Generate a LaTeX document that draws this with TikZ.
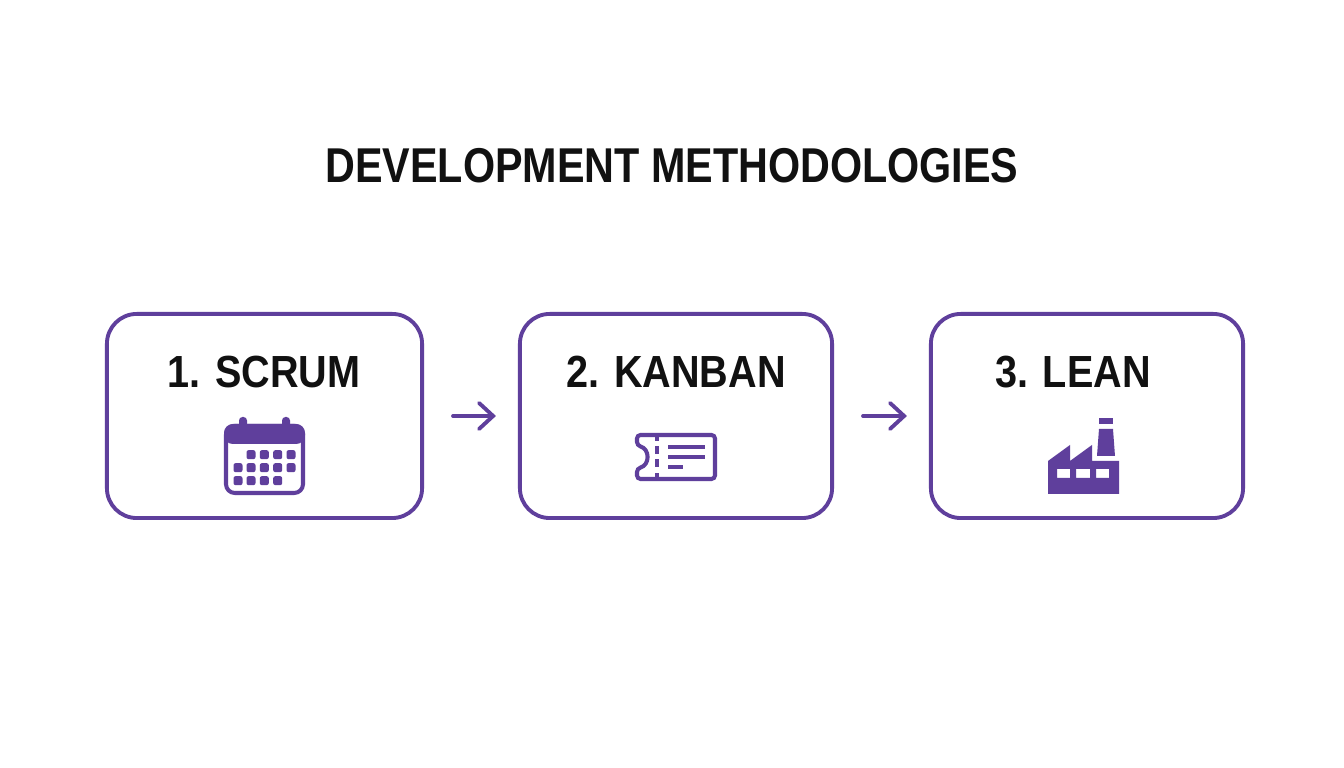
\documentclass[tikz,border=0pt]{standalone}
\usepackage{fontspec}
\setmainfont{Liberation Sans}
\usetikzlibrary{arrows.meta}
\definecolor{methpurple}{HTML}{5F3F9C}
\definecolor{methblack}{HTML}{111111}
\tikzset{
  methbox/.style={draw=methpurple,line width=1.1pt,rounded corners=8.5pt,minimum width=3.12cm,minimum height=2.04cm,inner sep=0pt},
  methtitle/.style={text=methblack,font=\bfseries\fontsize{13.9}{16}\selectfont,inner sep=0pt,xscale=0.845},
  methlabel/.style={text=methblack,font=\bfseries\fontsize{12.8}{15}\selectfont,inner sep=0pt,xscale=0.88},
  methflow/.style={draw=methpurple,line width=1.1pt,line cap=round,-{Straight Barb[length=4pt,width=7.4pt,line cap=round]},shorten <=0.29cm,shorten >=0.22cm},
  iconfill/.style={fill=methpurple,draw=none},
  iconline/.style={draw=methpurple,line width=1.15pt},
}
\begin{document}
\begin{tikzpicture}[x=0.01cm,y=-0.01cm]
\useasboundingbox[fill=white] (0,0) rectangle (1344,768);

\node[methtitle] (title) at (672,166) {DEVELOPMENT METHODOLOGIES};

\node[methbox,minimum width=3.15cm] (scrum) at (264.5,416) {};
\node[methbox] (kanban) at (676,416) {};
\node[methbox] (lean) at (1087,416) {};

\node[methlabel] (scrumlabel) at (264,372) {1. SCRUM};
\node[methlabel] (kanbanlabel) at (676,372) {2. KANBAN};
\node[methlabel] (leanlabel) at (1073,372) {3. LEAN};

\draw[methflow] (scrum) -- (kanban);
\draw[methflow] (kanban) -- (lean);

% calendar
\draw[iconline,rounded corners=2.5pt] (226,426) rectangle (303,493);
\fill[methpurple,rounded corners=2.5pt] (224,444) -- (224,424) -- (305,424) -- (305,444) -- cycle;
\fill[methpurple,rounded corners=1pt] (239,430) rectangle (247,417);
\fill[methpurple,rounded corners=1pt] (282,430) rectangle (290,417);
\foreach \cx in {251,264.3,277.7,291}
  \fill[methpurple,rounded corners=0.6pt] (\cx-4.5,450.2) rectangle (\cx+4.5,459.2);
\foreach \cx in {238,251,264.3,277.7,291}
  \fill[methpurple,rounded corners=0.6pt] (\cx-4.5,463.2) rectangle (\cx+4.5,472.2);
\foreach \cx in {238,251,264.3,277.7}
  \fill[methpurple,rounded corners=0.6pt] (\cx-4.5,476.2) rectangle (\cx+4.5,485.2);

% ticket
\draw[iconline,rounded corners=1pt] (660,435) -- (715,435) -- (715,479) -- (637,479) -- (637,468.5)
  .. controls (650,465) and (650,449) .. (637,445.5) -- (637,435) -- cycle;
\foreach \dy in {433,446,459,473}
  \fill[methpurple] (655,\dy) rectangle (659,\dy+8);
\fill[methpurple] (668,445) rectangle (705,449);
\fill[methpurple] (668,455) rectangle (705,459);
\fill[methpurple] (668,465) rectangle (683,469);

% factory
\fill[iconfill,even odd rule] (1048,461) -- (1070,445) -- (1070,461) -- (1092,445) -- (1092,461) -- (1119,461) -- (1119,494) -- (1048,494) -- cycle
  (1057,469) rectangle (1070,478) (1076,469) rectangle (1090,478) (1096,469) rectangle (1109,478);
\fill[iconfill] (1097,456) -- (1115,456) -- (1113,429) -- (1099,429) -- cycle;
\fill[iconfill] (1099,418) rectangle (1113,424);
\end{tikzpicture}
\end{document}
